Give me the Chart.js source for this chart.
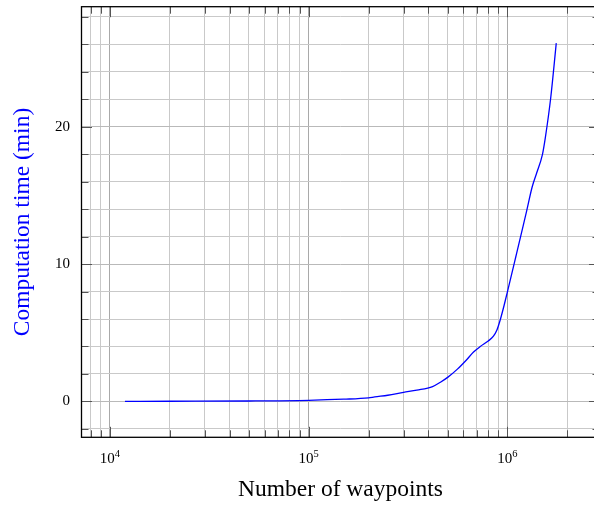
<!DOCTYPE html>
<html>
<head>
<meta charset="utf-8">
<script src="https://cdn.jsdelivr.net/npm/chart.js@4.4.1/dist/chart.umd.min.js"></script>
<style>
  html, body { margin: 0; padding: 0; background: #fff; overflow: hidden; }
  #wrap { width: 602px; height: 506px; }
</style>
</head>
<body>
<div id="wrap"><canvas id="timeChart"></canvas></div>
<script>
// number of waypoints vs. computation time (min)
const waypoints = [11900, 20000, 50000, 100000, 150000, 200000, 215000, 250000, 300000, 350000,
  420000, 460000, 500000, 560000, 620000, 675000, 730000, 800000, 850000, 885000,
  920000, 960000, 1000000, 1100000, 1200000, 1250000, 1330000, 1400000, 1500000, 1550000,
  1650000, 1760000];
const timeMin = [0.0, 0.01, 0.03, 0.08, 0.16, 0.26, 0.33, 0.45, 0.66, 0.82,
  1.08, 1.4, 1.75, 2.35, 3.0, 3.6, 4.0, 4.4, 4.75, 5.2,
  5.95, 6.95, 8.0, 10.5, 12.8, 13.9, 15.6, 16.6, 18.0, 19.2,
  22.1, 26.1];

// tick values
const xDecades = [1e4, 1e5, 1e6];
const yLabels = [0, 10, 20];
const yStep = 2;

const xMin = 7194, xMax = 2.904e6;
const yMin = -2.614, yMax = 28.75;

const serif = 'Liberation Serif';

const isDecade = v => Math.abs(Math.log10(v) - Math.round(Math.log10(v))) < 1e-9;

const noPad = scale => {
  scale.paddingTop = 0;
  scale.paddingBottom = 0;
  scale.paddingLeft = 0;
  scale.paddingRight = 0;
};

// tick marks inside the box, the frame and the 10^k labels
const framePlugin = {
  id: 'framePlugin',
  afterDraw(chart) {
    const {ctx, chartArea: a, scales: {x, y}} = chart;
    ctx.save();
    ctx.strokeStyle = '#555';
    ctx.lineWidth = 1;
    ctx.beginPath();
    x.ticks.forEach(t => {
      const px = Math.round(x.getPixelForValue(t.value)) + 0.5;
      const len = t.major ? 10.5 : 7;
      ctx.moveTo(px, a.bottom); ctx.lineTo(px, a.bottom - len);
      ctx.moveTo(px, a.top); ctx.lineTo(px, a.top + len);
    });
    y.ticks.forEach(t => {
      const py = Math.round(y.getPixelForValue(t.value)) + 0.5;
      const len = t.major ? 10.5 : 7;
      ctx.moveTo(a.left, py); ctx.lineTo(a.left + len, py);
      ctx.moveTo(a.right, py); ctx.lineTo(a.right - len, py);
    });
    ctx.stroke();

    ctx.strokeStyle = '#000';
    ctx.lineWidth = 1.3;
    ctx.strokeRect(a.left, a.top, a.width, a.height);

    // x labels 10^k
    ctx.fillStyle = '#000';
    ctx.textBaseline = 'alphabetic';
    ctx.textAlign = 'left';
    xDecades.forEach(v => {
      const px = x.getPixelForValue(v);
      const exp = String(Math.round(Math.log10(v)));
      ctx.font = '15px "' + serif + '"';
      const wBase = ctx.measureText('10').width;
      ctx.font = '10.5px "' + serif + '"';
      const wExp = ctx.measureText(exp).width;
      const x0 = px - (wBase + wExp) / 2;
      ctx.font = '15px "' + serif + '"';
      ctx.fillText('10', x0, 462.7);
      ctx.font = '10.5px "' + serif + '"';
      ctx.fillText(exp, x0 + wBase, 456.5);
    });
    ctx.restore();
  }
};

const points = waypoints.map((w, i) => ({x: w, y: timeMin[i]}));

new Chart(document.getElementById('timeChart'), {
  type: 'line',
  data: {
    datasets: [{
      data: points,
      borderColor: '#0000ff',
      borderWidth: 1.3,
      pointRadius: 0,
      fill: false,
      cubicInterpolationMode: 'monotone'
    }]
  },
  options: {
    responsive: true,
    maintainAspectRatio: false,
    animation: false,
    layout: { padding: { left: 0, right: 2.5, top: 6.7, bottom: 0 } },
    plugins: {
      legend: { display: false },
      tooltip: { enabled: false }
    },
    scales: {
      x: {
        type: 'logarithmic',
        min: xMin,
        max: xMax,
        afterBuildTicks: scale => {
          const ticks = [];
          for (let e = 3; e <= 6; e++) {
            for (let m = 1; m <= 9; m++) {
              const v = m * Math.pow(10, e);
              if (v >= xMin && v <= xMax) ticks.push({ value: v, major: isDecade(v) });
            }
          }
          scale.ticks = ticks;
        },
        afterFit: scale => { scale.height = 506 - 437.3; noPad(scale); },
        ticks: { display: false, autoSkip: false },
        grid: {
          drawTicks: false,
          lineWidth: 1,
          color: c => (c.tick && c.tick.major) ? '#a9a9a9' : '#c9c9c9'
        },
        border: { display: false },
        title: {
          display: true,
          text: 'Number of waypoints',
          color: '#000',
          font: { family: serif, size: 23.5 },
          padding: { top: 0, bottom: 2.5 }
        }
      },
      y: {
        type: 'linear',
        min: yMin,
        max: yMax,
        afterBuildTicks: scale => {
          const ticks = [];
          for (let v = -2; v <= yMax; v += yStep) {
            ticks.push({ value: v, major: yLabels.includes(v) });
          }
          scale.ticks = ticks;
        },
        afterFit: scale => { scale.width = 81.5; noPad(scale); },
        ticks: {
          autoSkip: false,
          padding: 11.5,
          color: '#000',
          font: { family: serif, size: 15 },
          callback: v => yLabels.includes(v) ? String(v) : ''
        },
        grid: {
          drawTicks: false,
          lineWidth: 1,
          color: c => (c.tick && c.tick.major) ? '#b9b9b9' : '#c9c9c9'
        },
        border: { display: false },
        title: {
          display: true,
          text: 'Computation time (min)',
          color: '#0000ff',
          font: { family: serif, size: 23.5 },
          padding: { top: 9, bottom: 0 }
        }
      }
    }
  },
  plugins: [framePlugin]
});
</script>
</body>
</html>
